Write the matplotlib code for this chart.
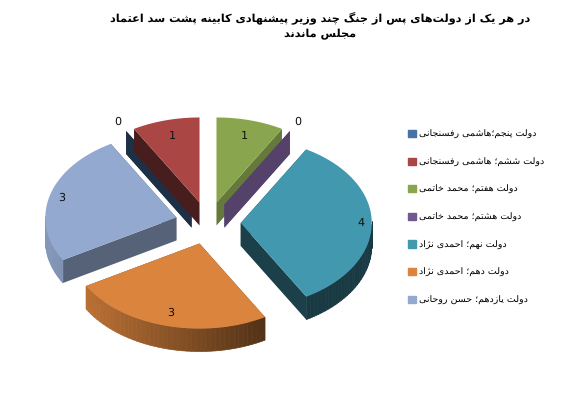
import unicodedata
import numpy as np
import matplotlib
matplotlib.use('Agg')
import matplotlib.pyplot as plt
import matplotlib.patches as mpatches
from matplotlib.colors import to_rgb

plt.rcParams['text.hinting'] = 'no_hinting'

# Data
title_lines = ['در هر یک از دولت\u200cهای پس از جنگ چند وزیر پیشنهادی کابینه پشت سد اعتماد',
               'مجلس ماندند']
labels = ['دولت پنجم؛هاشمی رفسنجانی', 'دولت ششم؛ هاشمی رفسنجانی', 'دولت هفتم؛ محمد خاتمی',
          'دولت هشتم؛ محمد خاتمی', 'دولت نهم؛ احمدی نژاد', 'دولت دهم؛ احمدی نژاد',
          'دولت یازدهم؛ حسن روحانی']
values = [0, 1, 1, 0, 4, 3, 3]

# Styles
colors = ['#4573A7', '#AA4644', '#89A54E', '#71588F', '#4198AF', '#DB843D', '#93A9CF']
side_shade = [0.42, 0.42, 0.74, 0.75, 0.42, 0.42, 0.58]
label_r = [1.12, 0.81, 0.81, 1.12, 0.92, 0.84, 0.91]
draw_order = [0, 1, 2, 3, 6, 5, 4]

# Pie geometry in pixels
cx, cy = 208, 223
rx, ry = 131, 85
depth = 23
explode = 0.25
first_angle = -30


# matplotlib does no Arabic shaping, so pick presentation forms by hand
forms = {}
for cp in list(range(0xFB50, 0xFE00)) + list(range(0xFE70, 0xFEFF)):
    d = unicodedata.decomposition(chr(cp)).split()
    if len(d) == 2 and d[0] in ('<isolated>', '<final>', '<initial>', '<medial>'):
        forms.setdefault(chr(int(d[1], 16)), {})[d[0]] = chr(cp)
right_only = set('ادذرزژوآ')


def shape(text):
    parts = text.split('\u200c')
    out = ''
    for part in parts:
        shaped = ''
        for i, c in enumerate(part):
            if c not in forms:
                shaped += c
                continue
            before = i > 0 and part[i - 1] in forms and part[i - 1] not in right_only
            after = i < len(part) - 1 and part[i + 1] in forms and c not in right_only
            key = {(0, 0): '<isolated>', (1, 0): '<final>', (0, 1): '<initial>', (1, 1): '<medial>'}[(int(before), int(after))]
            shaped += forms[c].get(key, c)
        out += shaped
    return out[::-1] if len(parts) == 1 else ''.join(shape(p) for p in parts[::-1])


def darker(col, f):
    return tuple(v * f for v in to_rgb(col))


def wall_shade(t):
    return max(0.38, 0.55 - 0.35 * np.sin(t))


def px(t, ox, oy, r=1.0):
    return ox + r * rx * np.sin(t), oy - r * ry * np.cos(t)


fig = plt.figure(figsize=(5.7, 4.07), dpi=100)
ax = fig.add_axes([0, 0, 1, 1])
ax.set_xlim(0, 570)
ax.set_ylim(407, 0)
ax.axis('off')

total = sum(values)
edges = np.radians(first_angle + np.cumsum([0] + values) * 360 / total)

for i in draw_order:
    t0, t1 = edges[i], edges[i + 1]
    mid = (t0 + t1) / 2
    ox, oy = px(mid, cx, cy, explode)
    col = colors[i]

    # flat cut sides
    for t in (t0, t1):
        ex, ey = px(t, ox, oy)
        ax.fill([ox, ex, ex, ox], [oy, ey, ey + depth, oy + depth], color=darker(col, side_shade[i]), lw=0)

    # curved outer wall
    ts = np.linspace(t0, t1, max(2, int(np.degrees(t1 - t0) / 2)))
    for a, b in zip(ts[:-1], ts[1:]):
        if np.cos((a + b) / 2) > 0:
            continue
        ax1, ay1 = px(a, ox, oy)
        ax2, ay2 = px(b, ox, oy)
        shade = darker(col, wall_shade((a + b) / 2))
        ax.fill([ax1, ax2, ax2, ax1], [ay1, ay2, ay2 + depth, ay1 + depth], color=shade, ec=shade, lw=0.5)

    # top face
    if values[i] > 0:
        ts = np.linspace(t0, t1, 80)
        xs, ys = px(ts, ox, oy)
        ax.fill(np.r_[ox, xs], np.r_[oy, ys], color=col, lw=0)

    lx, ly = px(mid, ox, oy, label_r[i])
    ax.text(lx, ly, str(values[i]), ha='center', va='center', fontsize=8, color='#111111')

handles = [mpatches.Patch(color=c, label=shape(l)) for c, l in zip(colors, labels)]
ax.legend(handles=handles, loc='upper left', bbox_to_anchor=(408 / 570, 1 - 130 / 407), frameon=False,
          fontsize=6.8, labelspacing=1.96, handlelength=0.8, handleheight=0.8, handletextpad=0.37,
          borderpad=0, borderaxespad=0)

ax.text(320, 18, shape(title_lines[0]), ha='center', va='center', fontsize=8.1, fontweight='bold', color='black')
ax.text(320, 34, shape(title_lines[1]), ha='center', va='center', fontsize=8.1, fontweight='bold', color='black')

plt.savefig('out.png', dpi=100)
